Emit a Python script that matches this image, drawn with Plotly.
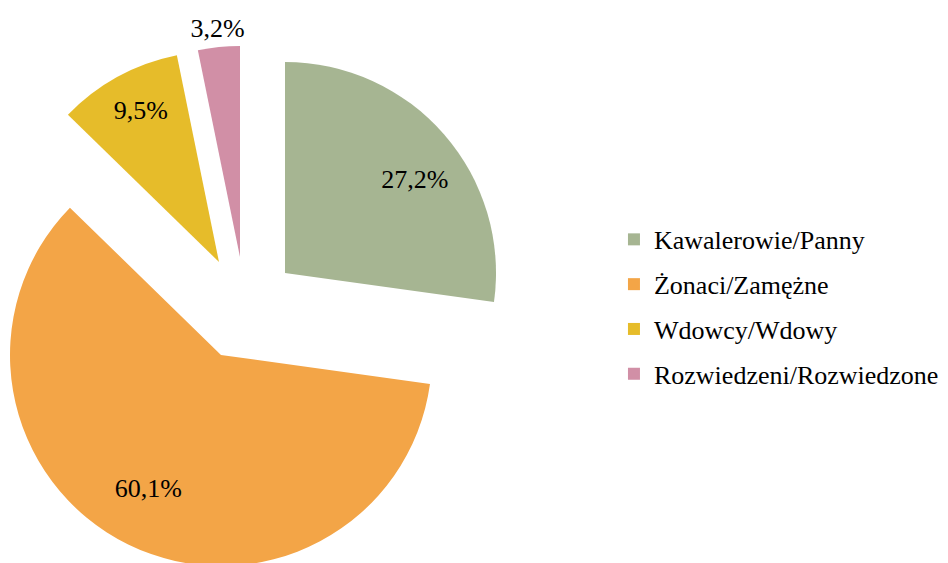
import plotly.graph_objects as go

labels = ["Kawalerowie/Panny", "Żonaci/Zamężne", "Wdowcy/Wdowy", "Rozwiedzeni/Rozwiedzone"]
shares = [27.2, 60.1, 9.5, 3.2]
colors = ["#A6B592", "#F3A547", "#E6BC2A", "#D18FA6"]

W, H = 948, 563
R = 211
FONT = "Liberation Serif"

# figure-pixel position of each exploded slice's tip
tips = [(277, 265), (213, 347), (211, 254), (232, 249)]
text_pos = ["inside", "inside", "inside", "outside"]
# small (dx, dy) px nudges so the labels sit where Excel put them
text_nudge = [(9, 12), (-2, -11), (0, -8), (33, -4)]
HOLE = 0.52                  # pushes inside labels out to ~3/4 of the radius


def dom(cx, cy):
    cx = min(max(cx, R), W - R)
    cy = min(max(cy, R), H - R)
    return dict(x=[(cx - R) / W, (cx + R) / W], y=[1 - (cy + R) / H, 1 - (cy - R) / H])


fig = go.Figure()
n = len(labels)
lbl_font = dict(family=FONT, size=26, color="black")

# one pie per slice so every slice can be moved on its own
for i, (cx, cy) in enumerate(tips):
    fig.add_trace(go.Pie(
        labels=labels, values=shares, sort=False, direction="clockwise", rotation=0,
        marker=dict(colors=[c if j == i else "rgba(0,0,0,0)" for j, c in enumerate(colors)],
                    line=dict(width=0)),
        textinfo="none", domain=dom(cx, cy), showlegend=False, hoverinfo="skip",
    ))

# transparent donuts carrying the percentage labels
for i, (cx, cy) in enumerate(tips):
    dx, dy = text_nudge[i]
    fig.add_trace(go.Pie(
        labels=labels, values=shares, sort=False, direction="clockwise", rotation=0,
        hole=HOLE,
        marker=dict(colors=["rgba(0,0,0,0)"] * n, line=dict(width=0)),
        texttemplate=["%{value:.1f}%" if j == i else "" for j in range(n)],
        textposition=[text_pos[i] if j == i else "none" for j in range(n)],
        insidetextorientation="horizontal",
        textfont=lbl_font, insidetextfont=lbl_font, outsidetextfont=lbl_font,
        domain=dom(cx + dx, cy + dy), showlegend=False, hoverinfo="skip",
    ))

# legend entries
for name, c in zip(labels, colors):
    fig.add_trace(go.Scatter(x=[None], y=[None], mode="markers", name=name, legendgroup=name,
                             marker=dict(symbol="square", size=12, color=c)))

fig.update_layout(
    width=W, height=H,
    margin=dict(l=0, r=0, t=0, b=0),
    paper_bgcolor="white", plot_bgcolor="white",
    separators=", ",
    xaxis=dict(visible=False), yaxis=dict(visible=False),
    legend=dict(x=0.6392, y=0.469, xanchor="left", yanchor="middle",
                font=dict(family=FONT, size=26, color="black"),
                traceorder="grouped", tracegroupgap=8, itemwidth=30,
                bgcolor="rgba(0,0,0,0)"),
)

fig.write_html("out.html")
